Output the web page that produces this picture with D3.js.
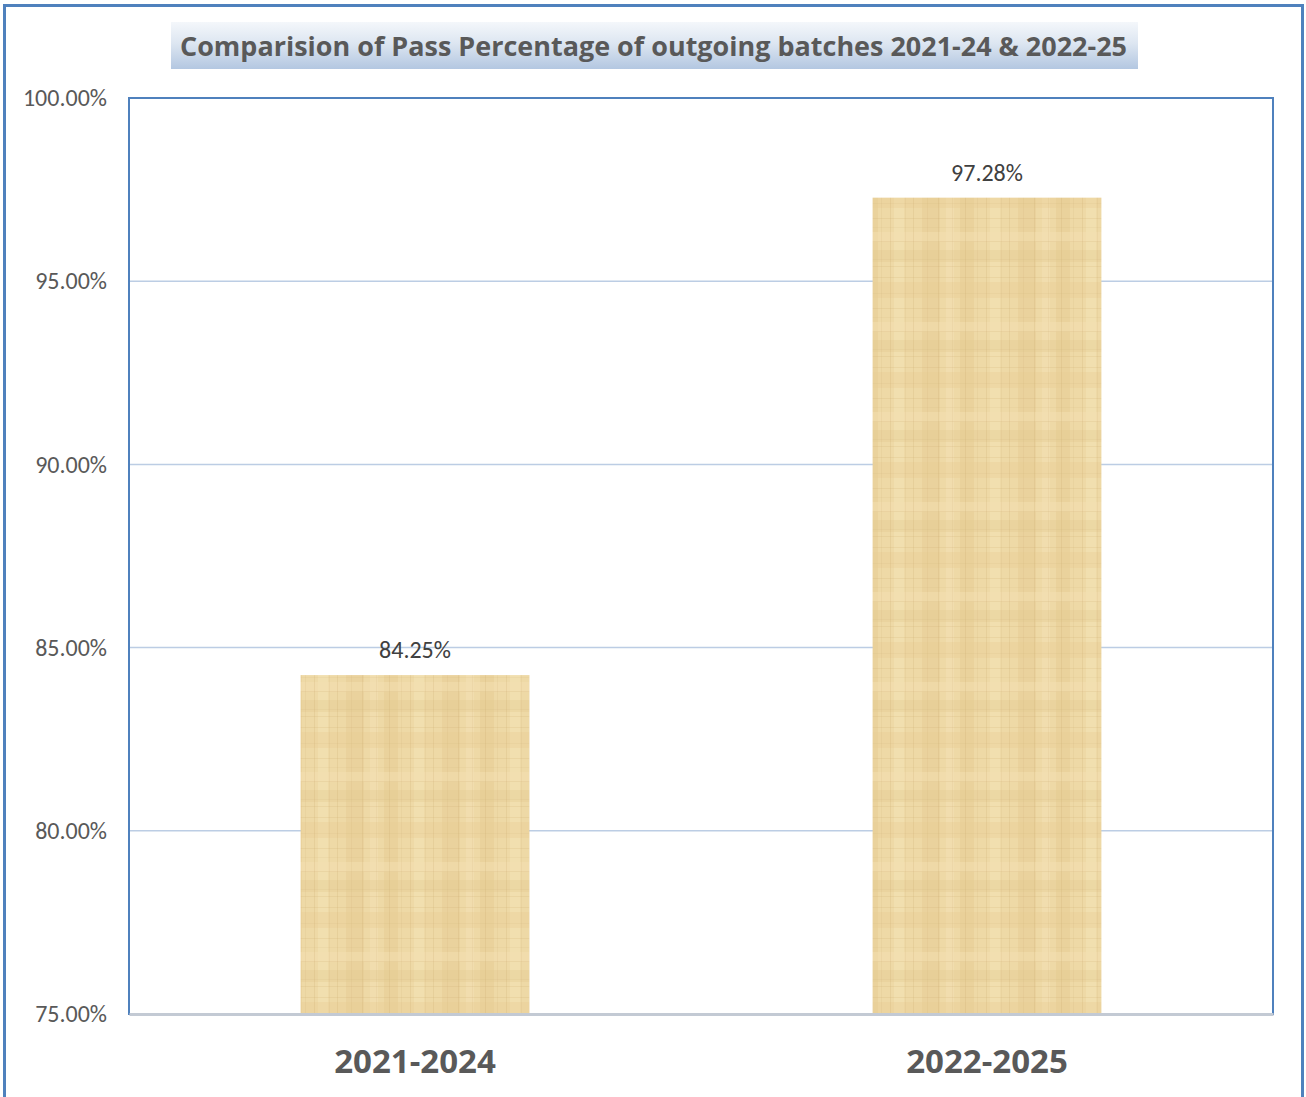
<!DOCTYPE html>
<html>
<head>
<meta charset="utf-8">
<script src="https://cdn.jsdelivr.net/npm/d3@7"></script>
<style>
  body { margin: 0; background: #fff; }
  svg { display: block; }
</style>
</head>
<body>
<script>
// chart data
var batches = ["2021-2024", "2022-2025"];
var passPct = [84.25, 97.28];
var yTicks = [75, 80, 85, 90, 95, 100];
var chartTitle = "Comparision of Pass Percentage of outgoing batches 2021-24 & 2022-25";

var w = 1306, h = 1097;
var plot = { left: 129, top: 98, right: 1273, bottom: 1014 };

var svg = d3.select("body").append("svg")
    .attr("width", w)
    .attr("height", h);

var defs = svg.append("defs");

// title box gradient
var grad = defs.append("linearGradient")
    .attr("id", "titleGrad")
    .attr("x1", 0).attr("y1", 0).attr("x2", 0).attr("y2", 1);
grad.append("stop").attr("offset", "0%").attr("stop-color", "#f4f7fb");
grad.append("stop").attr("offset", "45%").attr("stop-color", "#dde6f1");
grad.append("stop").attr("offset", "100%").attr("stop-color", "#b3c7e1");

// papyrus-ish texture for the bars
var pat = defs.append("pattern")
    .attr("id", "papyrus")
    .attr("patternUnits", "userSpaceOnUse")
    .attr("width", 96).attr("height", 90);
pat.append("rect").attr("width", 96).attr("height", 90).attr("fill", "#eed9a6");
// broad lighter / darker vertical bands
[[0, 14, "#e6cc92", 0.5], [30, 10, "#f4e2b6", 0.6], [58, 18, "#e4c98e", 0.4], [82, 8, "#f4e2b6", 0.5]].forEach(function(b) {
    pat.append("rect").attr("x", b[0]).attr("y", 0).attr("width", b[1]).attr("height", 90)
        .attr("fill", b[2]).attr("opacity", b[3]);
});
[[12, 16, "#e6cc92", 0.35], [52, 10, "#f3e0b2", 0.5], [70, 12, "#e2c78c", 0.3]].forEach(function(b) {
    pat.append("rect").attr("x", 0).attr("y", b[0]).attr("width", 96).attr("height", b[1])
        .attr("fill", b[2]).attr("opacity", b[3]);
});
// thin fibres
var vLines = [5, 17, 26, 41, 49, 63, 74, 88];
var hLines = [7, 23, 38, 47, 61, 79, 86];
vLines.forEach(function(x, i) {
    pat.append("rect").attr("x", x).attr("y", 0).attr("width", 1).attr("height", 90)
        .attr("fill", "#c8a66a").attr("opacity", i % 2 ? 0.12 : 0.2);
});
hLines.forEach(function(y, i) {
    pat.append("rect").attr("x", 0).attr("y", y).attr("width", 96).attr("height", 1)
        .attr("fill", "#c8a66a").attr("opacity", i % 2 ? 0.1 : 0.18);
});

// outer frame
svg.append("rect")
    .attr("x", 4.5).attr("y", 5.5)
    .attr("width", 1298).attr("height", 1110)
    .attr("fill", "none")
    .attr("stroke", "#4f81bd")
    .attr("stroke-width", 3);

// scales
var xScale = d3.scaleBand()
    .domain(batches)
    .range([plot.left, plot.right])
    .paddingInner(0.6)
    .paddingOuter(0.3);

var yScale = d3.scaleLinear()
    .domain([75, 100])
    .range([plot.bottom, plot.top]);

// gridlines
svg.append("g")
    .selectAll("line")
    .data(yTicks.slice(1, -1))
    .enter()
    .append("line")
    .attr("x1", plot.left).attr("x2", plot.right)
    .attr("y1", function(d) { return yScale(d); })
    .attr("y2", function(d) { return yScale(d); })
    .attr("stroke", "#bccde4")
    .attr("stroke-width", 1.5);

// y axis labels
var yAxis = d3.axisLeft(yScale)
    .tickValues(yTicks)
    .tickSize(0)
    .tickPadding(22)
    .tickFormat(function(d) { return d.toFixed(2) + "%"; });

var yg = svg.append("g")
    .attr("transform", "translate(" + plot.left + ",0)")
    .call(yAxis);
yg.select(".domain").remove();
yg.selectAll("text")
    .attr("font-family", "Carlito, 'Open Sans', sans-serif")
    .attr("font-size", 24)
    .attr("fill", "#595959");

// bars
var data = batches.map(function(b, i) { return { batch: b, pct: passPct[i] }; });

svg.append("g")
    .selectAll("rect")
    .data(data)
    .enter()
    .append("rect")
    .attr("x", function(d) { return xScale(d.batch); })
    .attr("y", function(d) { return yScale(d.pct); })
    .attr("width", xScale.bandwidth())
    .attr("height", function(d) { return plot.bottom - yScale(d.pct); })
    .attr("fill", "url(#papyrus)");

// value labels
svg.append("g")
    .selectAll("text")
    .data(data)
    .enter()
    .append("text")
    .attr("x", function(d) { return xScale(d.batch) + xScale.bandwidth() / 2; })
    .attr("y", function(d) { return yScale(d.pct) - 25; })
    .attr("dy", "0.35em")
    .attr("text-anchor", "middle")
    .attr("font-family", "Carlito, 'Open Sans', sans-serif")
    .attr("font-size", 24)
    .attr("fill", "#404040")
    .text(function(d) { return d.pct.toFixed(2) + "%"; });

// plot area border
svg.append("rect")
    .attr("x", plot.left).attr("y", plot.top)
    .attr("width", plot.right - plot.left)
    .attr("height", plot.bottom - plot.top)
    .attr("fill", "none")
    .attr("stroke", "#4f81bd")
    .attr("stroke-width", 2);

// category axis line
var xAxis = d3.axisBottom(xScale).tickSize(0).tickPadding(36);
var xg = svg.append("g")
    .attr("transform", "translate(0," + plot.bottom + ")")
    .call(xAxis);
xg.select(".domain")
    .attr("stroke", "#c3cad4")
    .attr("stroke-width", 3);
xg.selectAll("text")
    .attr("font-family", "'Open Sans', sans-serif")
    .attr("font-weight", "bold")
    .attr("font-size", 33)
    .attr("fill", "#595959");

// title
svg.append("rect")
    .attr("x", 171).attr("y", 22)
    .attr("width", 967).attr("height", 47)
    .attr("fill", "url(#titleGrad)");

svg.append("text")
    .attr("x", 180).attr("y", 47)
    .attr("dy", "0.35em")
    .attr("textLength", 947)
    .attr("lengthAdjust", "spacingAndGlyphs")
    .attr("font-family", "'Open Sans', sans-serif")
    .attr("font-weight", "bold")
    .attr("font-size", 27)
    .attr("fill", "#595959")
    .text(chartTitle);
</script>
</body>
</html>
